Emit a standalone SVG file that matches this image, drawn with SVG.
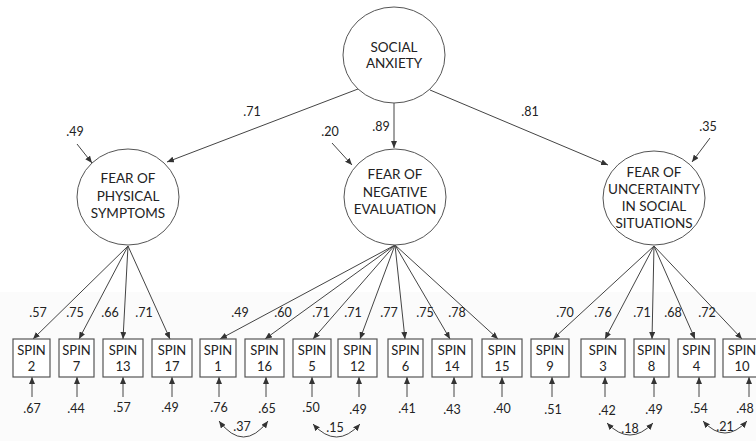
<svg xmlns="http://www.w3.org/2000/svg" width="756" height="441" viewBox="0 0 756 441">
<defs>
<marker id="ah" markerUnits="userSpaceOnUse" markerWidth="7" markerHeight="6" refX="7" refY="3" orient="auto-start-reverse">
<path d="M0,0 L7,3 L0,6 z" fill="#333"/>
</marker>
<style>
.lat{fill:#fff;stroke:#555;stroke-width:1}
.box{fill:#fff;stroke:#555;stroke-width:1.2}
.t{font-family:Lato,"Open Sans","Liberation Sans",sans-serif;fill:#222;text-anchor:middle}
.lt{font-size:13.5px}
.bt{font-size:13px}
.n{font-size:12.5px}
.c line,.c path{stroke:#444;stroke-width:1;fill:none;marker-end:url(#ah)}
.c path.cov{marker-start:url(#ah)}
</style>
</defs>
<rect x="0" y="0" width="756" height="441" fill="#fff"/>
<rect x="0" y="292" width="756" height="149" fill="#fbfbfb"/>

<g id="connectors" class="c">
<line x1="358" y1="89" x2="167" y2="162"/>
<line x1="394" y1="103" x2="394" y2="148"/>
<line x1="430" y1="90" x2="608" y2="165"/>
<line x1="77" y1="144" x2="92" y2="163"/>
<line x1="332" y1="143" x2="352" y2="165"/>
<line x1="710" y1="138" x2="692" y2="162"/>
<line x1="128" y1="246" x2="33" y2="339"/>
<line x1="128" y1="246" x2="79" y2="339"/>
<line x1="128" y1="246" x2="123" y2="339"/>
<line x1="128" y1="246" x2="170" y2="339"/>
<line x1="395" y1="245" x2="220" y2="339"/>
<line x1="395" y1="245" x2="265" y2="339"/>
<line x1="395" y1="245" x2="313" y2="339"/>
<line x1="395" y1="245" x2="360" y2="339"/>
<line x1="395" y1="245" x2="405" y2="339"/>
<line x1="395" y1="245" x2="450" y2="339"/>
<line x1="395" y1="245" x2="498" y2="339"/>
<line x1="654" y1="246" x2="553" y2="339"/>
<line x1="654" y1="246" x2="605" y2="339"/>
<line x1="654" y1="246" x2="652" y2="339"/>
<line x1="654" y1="246" x2="695" y2="339"/>
<line x1="654" y1="246" x2="742" y2="339"/>
<line x1="32" y1="397" x2="32" y2="377"/>
<line x1="77" y1="397" x2="77" y2="377"/>
<line x1="123" y1="397" x2="123" y2="377"/>
<line x1="172" y1="397" x2="172" y2="377"/>
<line x1="219" y1="397" x2="219" y2="377"/>
<line x1="266" y1="397" x2="266" y2="377"/>
<line x1="312" y1="397" x2="312" y2="377"/>
<line x1="359" y1="397" x2="359" y2="377"/>
<line x1="407" y1="397" x2="407" y2="377"/>
<line x1="454" y1="397" x2="454" y2="377"/>
<line x1="502" y1="397" x2="502" y2="377"/>
<line x1="552" y1="397" x2="552" y2="377"/>
<line x1="605" y1="397" x2="605" y2="377"/>
<line x1="654" y1="397" x2="654" y2="377"/>
<line x1="699" y1="397" x2="699" y2="377"/>
<line x1="749" y1="397" x2="749" y2="377"/>
<path class="cov" d="M219,421 Q243.5,453 268,421"/>
<path class="cov" d="M313,424 Q336.5,450 360,424"/>
<path class="cov" d="M607,423 Q630,447 653,423"/>
<path class="cov" d="M703,421 Q725,445 747,421"/>
</g>

<g id="labels" class="t n">
<text x="252" y="116">.71</text>
<text x="381" y="131">.89</text>
<text x="530" y="116">.81</text>
<text x="75" y="136">.49</text>
<text x="330" y="136">.20</text>
<text x="708" y="131">.35</text>
<text x="38" y="317">.57</text>
<text x="75" y="317">.75</text>
<text x="110" y="317">.66</text>
<text x="144" y="317">.71</text>
<text x="240" y="317">.49</text>
<text x="283" y="317">.60</text>
<text x="321" y="317">.71</text>
<text x="353" y="317">.71</text>
<text x="389" y="317">.77</text>
<text x="425" y="317">.75</text>
<text x="457" y="317">.78</text>
<text x="565" y="317">.70</text>
<text x="603" y="317">.76</text>
<text x="642" y="317">.71</text>
<text x="673" y="317">.68</text>
<text x="707" y="317">.72</text>
<text x="32" y="413">.67</text>
<text x="76" y="413">.44</text>
<text x="122" y="412">.57</text>
<text x="170" y="412">.49</text>
<text x="219" y="412">.76</text>
<text x="267" y="413">.65</text>
<text x="311" y="412">.50</text>
<text x="358" y="414">.49</text>
<text x="407" y="413">.41</text>
<text x="452" y="414">.43</text>
<text x="502" y="413">.40</text>
<text x="553" y="414">.51</text>
<text x="607" y="415">.42</text>
<text x="654" y="414">.49</text>
<text x="699" y="413">.54</text>
<text x="745" y="413">.48</text>
<text x="242" y="431">.37</text>
<text x="335" y="432">.15</text>
<text x="630" y="433">.18</text>
<text x="725" y="431">.21</text>
</g>

<g id="social-anxiety">
<ellipse class="lat" cx="394" cy="55" rx="51" ry="48"/>
<text class="t lt" x="394" y="52">SOCIAL</text>
<text class="t lt" x="394" y="68">ANXIETY</text>
</g>
<g id="fear-physical">
<ellipse class="lat" cx="128" cy="197" rx="51" ry="48"/>
<text class="t lt" x="128" y="183">FEAR OF</text>
<text class="t lt" x="128" y="201">PHYSICAL</text>
<text class="t lt" x="128" y="218">SYMPTOMS</text>
</g>
<g id="fear-negative">
<ellipse class="lat" cx="395" cy="197" rx="51" ry="48"/>
<text class="t lt" x="395" y="179">FEAR OF</text>
<text class="t lt" x="395" y="197">NEGATIVE</text>
<text class="t lt" x="395" y="214">EVALUATION</text>
</g>
<g id="fear-uncertainty">
<ellipse class="lat" cx="654" cy="198" rx="51" ry="47"/>
<text class="t lt" x="654" y="177">FEAR OF</text>
<text class="t lt" x="654" y="194">UNCERTAINTY</text>
<text class="t lt" x="654" y="211">IN SOCIAL</text>
<text class="t lt" x="654" y="228">SITUATIONS</text>
</g>

<g id="spin2"><rect class="box" x="13" y="339" width="37" height="38"/><text class="t bt" x="31.5" y="355">SPIN</text><text class="t bt" x="31.5" y="371">2</text></g>
<g id="spin7"><rect class="box" x="59" y="339" width="35" height="38"/><text class="t bt" x="76.5" y="355">SPIN</text><text class="t bt" x="76.5" y="371">7</text></g>
<g id="spin13"><rect class="box" x="103" y="339" width="40" height="38"/><text class="t bt" x="123" y="355">SPIN</text><text class="t bt" x="123" y="371">13</text></g>
<g id="spin17"><rect class="box" x="152" y="339" width="40" height="38"/><text class="t bt" x="172" y="355">SPIN</text><text class="t bt" x="172" y="371">17</text></g>
<g id="spin1"><rect class="box" x="200" y="339" width="36" height="38"/><text class="t bt" x="218" y="355">SPIN</text><text class="t bt" x="218" y="371">1</text></g>
<g id="spin16"><rect class="box" x="245" y="339" width="39" height="38"/><text class="t bt" x="264.5" y="355">SPIN</text><text class="t bt" x="264.5" y="371">16</text></g>
<g id="spin5"><rect class="box" x="293" y="339" width="38" height="38"/><text class="t bt" x="312" y="355">SPIN</text><text class="t bt" x="312" y="371">5</text></g>
<g id="spin12"><rect class="box" x="338" y="339" width="39" height="38"/><text class="t bt" x="357.5" y="355">SPIN</text><text class="t bt" x="357.5" y="371">12</text></g>
<g id="spin6"><rect class="box" x="388" y="339" width="35" height="38"/><text class="t bt" x="405.5" y="355">SPIN</text><text class="t bt" x="405.5" y="371">6</text></g>
<g id="spin14"><rect class="box" x="432" y="339" width="40" height="38"/><text class="t bt" x="452" y="355">SPIN</text><text class="t bt" x="452" y="371">14</text></g>
<g id="spin15"><rect class="box" x="482" y="339" width="40" height="38"/><text class="t bt" x="502" y="355">SPIN</text><text class="t bt" x="502" y="371">15</text></g>
<g id="spin9"><rect class="box" x="531" y="339" width="38" height="38"/><text class="t bt" x="550" y="355">SPIN</text><text class="t bt" x="550" y="371">9</text></g>
<g id="spin3"><rect class="box" x="581" y="339" width="44" height="38"/><text class="t bt" x="603" y="355">SPIN</text><text class="t bt" x="603" y="371">3</text></g>
<g id="spin8"><rect class="box" x="634" y="339" width="35" height="38"/><text class="t bt" x="651.5" y="355">SPIN</text><text class="t bt" x="651.5" y="371">8</text></g>
<g id="spin4"><rect class="box" x="678" y="339" width="37" height="38"/><text class="t bt" x="696.5" y="355">SPIN</text><text class="t bt" x="696.5" y="371">4</text></g>
<g id="spin10"><rect class="box" x="723" y="339" width="38" height="38"/><text class="t bt" x="742" y="355">SPIN</text><text class="t bt" x="742" y="371">10</text></g>
</svg>
